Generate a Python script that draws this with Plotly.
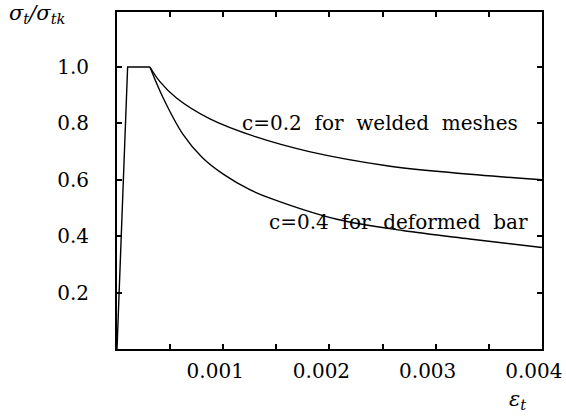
import plotly.graph_objects as go

# Tension-stiffening curves: normalised tensile stress vs. tensile strain
eps_rise = [0.0, 0.0001, 0.00031]
sig_rise = [0.0, 1.0, 1.0]

eps_welded = [0.00031, 0.00040, 0.00056, 0.00087, 0.00131, 0.00181, 0.00254, 0.00316, 0.00400]
sig_welded = [1.0, 0.95, 0.89, 0.817, 0.752, 0.70, 0.65, 0.625, 0.60]

eps_deformed = [0.00031, 0.000435, 0.000623, 0.00080, 0.00100, 0.00125, 0.00144, 0.00207, 0.00269, 0.00332, 0.00400]
sig_deformed = [1.0, 0.89, 0.76, 0.68, 0.62, 0.565, 0.535, 0.46, 0.42, 0.39, 0.36]

x_ticks = [0.001, 0.002, 0.003, 0.004]
x_labels = ["0.001", "0.002", "0.003", "0.004"]
x_minor_step = 0.0005
y_ticks = [0.2, 0.4, 0.6, 0.8, 1.0]
y_labels = ["0.2", "0.4", "0.6", "0.8", "1.0"]

label_welded = "c=0.2\u00a0 for\u00a0 welded\u00a0 meshes"
label_deformed = "c=0.4\u00a0 for\u00a0 deformed\u00a0 bar"

SERIF = "DejaVu Serif"
line_style = dict(color="black", width=1.4)

fig = go.Figure()
fig.add_trace(go.Scatter(x=eps_rise, y=sig_rise, mode="lines", line=line_style))
fig.add_trace(go.Scatter(x=eps_welded, y=sig_welded, mode="lines",
                         line=dict(line_style, shape="spline", smoothing=1.0)))
fig.add_trace(go.Scatter(x=eps_deformed, y=sig_deformed, mode="lines",
                         line=dict(line_style, shape="spline", smoothing=1.0)))

axis_common = dict(
    showgrid=False, zeroline=False, showline=True, linecolor="black", linewidth=2,
    mirror="ticks", ticks="inside", ticklen=5, tickwidth=1.5, tickcolor="black",
    tickfont=dict(family=SERIF, size=20, color="black"), automargin=False,
)

fig.update_layout(
    width=566, height=417,
    margin=dict(l=117, r=24, t=12, b=68),
    paper_bgcolor="white", plot_bgcolor="white",
    showlegend=False,
    xaxis=dict(axis_common, range=[0, 0.004001], tickmode="array",
               tickvals=x_ticks, ticktext=x_labels, ticklabelstandoff=3,
               ticklabelshift=-8, ticklabeloverflow="allow",
               minor=dict(tick0=0, dtick=x_minor_step, ticks="inside", ticklen=5,
                          tickwidth=1.5, tickcolor="black", showgrid=False)),
    yaxis=dict(axis_common, range=[0, 1.195], tickmode="array",
               tickvals=y_ticks, ticktext=y_labels, ticklabelstandoff=22),
    annotations=[
        dict(x=0.00379, y=0.80, xref="x", yref="y", text=label_welded, showarrow=False,
             xanchor="right", yanchor="middle", font=dict(family=SERIF, size=20, color="black")),
        dict(x=0.00389, y=0.452, xref="x", yref="y", text=label_deformed, showarrow=False,
             xanchor="right", yanchor="middle", font=dict(family=SERIF, size=20, color="black")),
        dict(x=-0.258, y=0.995, xref="paper", yref="paper",
             text="<i>σ<sub>t</sub>/σ<sub>tk</sub></i>",
             showarrow=False, xanchor="left", yanchor="middle",
             font=dict(family=SERIF, size=21, color="black")),
        dict(x=0.00377, y=-0.15, xref="x", yref="paper", text="<i>ε<sub>t</sub></i>",
             showarrow=False, xanchor="center", yanchor="middle",
             font=dict(family=SERIF, size=21, color="black")),
    ],
)

fig.write_html("out.html")
